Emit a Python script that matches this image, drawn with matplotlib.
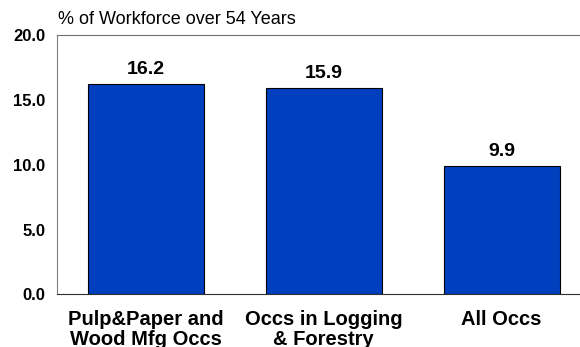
import matplotlib
matplotlib.use('Agg')
import matplotlib.pyplot as plt

plt.rcParams['font.family'] = ['Liberation Sans', 'DejaVu Sans']

categories = ['Pulp&Paper and\nWood Mfg Occs', 'Occs in Logging\n& Forestry', 'All Occs']
values = [16.2, 15.9, 9.9]
yticks = [0.0, 5.0, 10.0, 15.0, 20.0]

fig = plt.figure(figsize=(5.8, 3.47), dpi=100)
# axes runs a bit past the right edge of the figure, like the original
ax = fig.add_axes([0.0983, 0.1513, 0.9197, 0.748])

x = range(len(categories))
ax.bar(x, values, width=0.652, color='#0040BF', edgecolor='black', linewidth=0.8, zorder=2)
for i, v in enumerate(values):
    ax.text(i, v + 0.5, f'{v:.1f}', ha='center', va='bottom', fontsize=14, fontweight='bold')

ax.set_xlim(-0.5, 2.5)
ax.set_ylim(0, 20)
ax.set_yticks(yticks)
ax.set_yticklabels([f'{t:.1f}' for t in yticks], fontsize=12, fontweight='bold')
ax.set_xticks(list(x))
ax.set_xticklabels(categories, fontsize=14.5, fontweight='bold', linespacing=1.1)
ax.tick_params(axis='both', length=0)
ax.tick_params(axis='y', pad=8.5)
ax.tick_params(axis='x', pad=11)

ax.spines['right'].set_visible(False)
ax.spines['left'].set_color('#808080')
ax.spines['top'].set_color('#707070')
ax.spines['bottom'].set_color('#303030')

fig.text(0.1, 0.945, '% of Workforce over 54 Years', fontsize=13, ha='left', va='center')

fig.savefig('out.png', dpi=100)
